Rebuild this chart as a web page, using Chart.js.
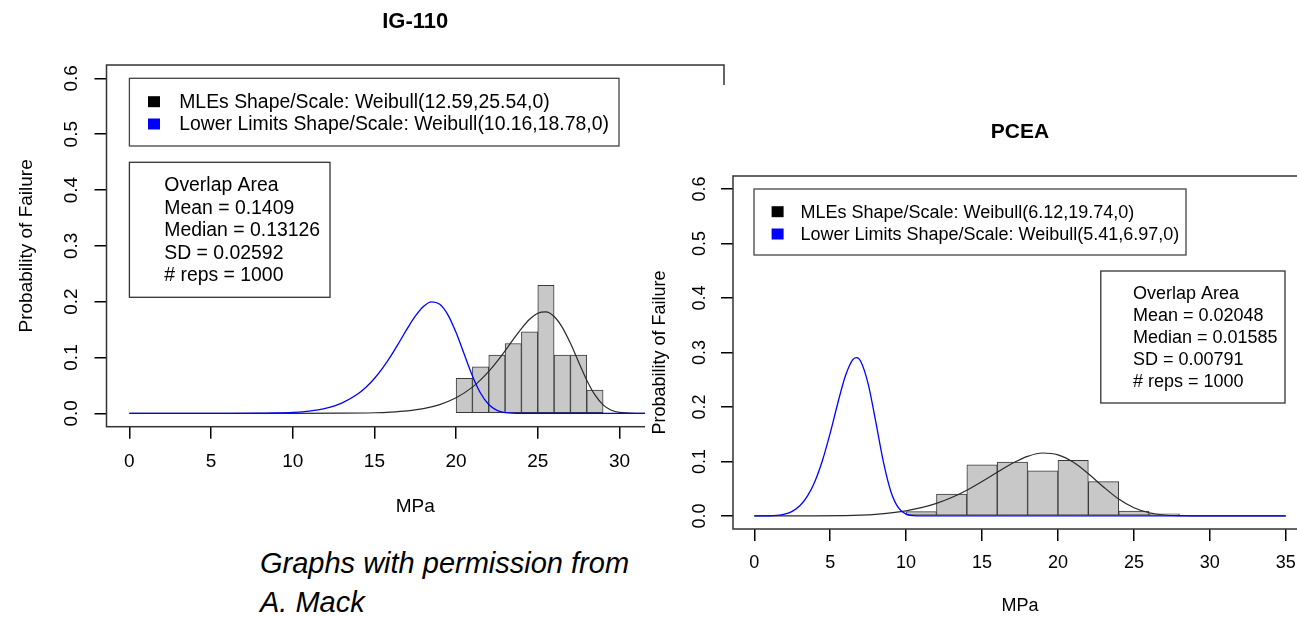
<!DOCTYPE html>
<html><head><meta charset="utf-8">
<script src="https://cdn.jsdelivr.net/npm/chart.js@4.4.1/dist/chart.umd.min.js"></script>
<style>
html,body{margin:0;padding:0;background:#fff;overflow:hidden;width:1297px;height:617px;}
#left{position:absolute;left:0;top:0;width:760px;height:540px;}
#right{position:absolute;left:645px;top:85px;width:662px;height:532px;background:#fff;}
#caption{position:absolute;left:260px;top:544px;font:italic 29px "Liberation Sans",Arial,sans-serif;line-height:38.5px;color:#000;white-space:nowrap;}
canvas{display:block;}
</style></head><body>
<div id="left"><canvas id="c1" width="760" height="540"></canvas></div>
<div id="right"><canvas id="c2" width="662" height="532"></canvas></div>
<div id="caption">Graphs with permission from<br>A. Mack</div>
<script>
// ---------- data ----------
const xTickValues = [0, 5, 10, 15, 20, 25, 30, 35];
const yTickValues = [0, 0.1, 0.2, 0.3, 0.4, 0.5, 0.6];

// IG-110
const igBinCenters = [20.5, 21.5, 22.5, 23.5, 24.5, 25.5, 26.5, 27.5, 28.5];
const igDensity    = [0.0625, 0.0833, 0.1042, 0.1250, 0.1458, 0.2292, 0.1042, 0.1042, 0.0417];
const igMleX = [0, 10, 13, 15, 16, 17, 18, 19, 20, 21, 21.5, 22, 22.5, 23, 23.5, 24, 24.5, 25, 25.5, 26, 26.5, 27, 27.5, 28, 28.5, 29, 29.5, 30, 31, 35];
const igMleY = [0, 0.0000, 0.0002, 0.0010, 0.0022, 0.0044, 0.0084, 0.0156, 0.0277, 0.0469, 0.0598, 0.0751, 0.0927, 0.1120, 0.1323, 0.1518, 0.1684, 0.1793, 0.1816, 0.1734, 0.1540, 0.1254, 0.0920, 0.0594, 0.0329, 0.0152, 0.0056, 0.0016, 0.0001, 0];
const igLowX = [0, 6, 8, 9, 10, 11, 12, 13, 14, 14.5, 15, 15.5, 16, 16.5, 17, 17.5, 18, 18.5, 19, 19.5, 20, 20.5, 21, 21.5, 22, 22.5, 23, 24, 35];
const igLowY = [0, 0.0000, 0.0002, 0.0006, 0.0017, 0.0040, 0.0089, 0.0182, 0.0349, 0.0471, 0.0623, 0.0809, 0.1025, 0.1264, 0.1511, 0.1739, 0.1915, 0.1998, 0.1953, 0.1764, 0.1446, 0.1057, 0.0670, 0.0359, 0.0157, 0.0053, 0.0014, 0.0000, 0];
const igLegend  = ["MLEs Shape/Scale: Weibull(12.59,25.54,0)", "Lower Limits Shape/Scale: Weibull(10.16,18.78,0)"];
const igOverlap = ["Overlap Area", "Mean = 0.1409", "Median = 0.13126", "SD = 0.02592", "# reps = 1000"];

// PCEA
const pcBinCenters = [11, 13, 15, 17, 19, 21, 23, 25, 27];
const pcDensity    = [0.008, 0.040, 0.094, 0.099, 0.083, 0.102, 0.063, 0.009, 0.004];
const pcMleX = [0, 4, 6, 7, 8, 9, 10, 11, 12, 13, 14, 15, 16, 17, 18, 19, 20, 21, 22, 23, 24, 25, 26, 27, 28, 30, 35];
const pcMleY = [0, 0.0001, 0.0007, 0.0015, 0.0030, 0.0055, 0.0094, 0.0151, 0.0231, 0.0338, 0.0472, 0.0631, 0.0802, 0.0966, 0.1094, 0.1155, 0.1122, 0.0988, 0.0775, 0.0531, 0.0309, 0.0149, 0.0058, 0.0017, 0.0004, 0, 0];
const pcLowX = [0, 1, 1.5, 2, 2.5, 3, 3.5, 4, 4.5, 5, 5.5, 6, 6.5, 6.75, 7, 7.5, 8, 8.5, 9, 9.5, 10, 10.5, 11, 12, 35];
const pcLowY = [0, 0.0001, 0.0009, 0.0032, 0.0084, 0.0187, 0.0363, 0.0638, 0.1027, 0.1520, 0.2069, 0.2570, 0.2875, 0.2907, 0.2843, 0.2425, 0.1732, 0.0998, 0.0445, 0.0146, 0.0033, 0.0005, 0.0001, 0, 0];
const pcLegend  = ["MLEs Shape/Scale: Weibull(6.12,19.74,0)", "Lower Limits Shape/Scale: Weibull(5.41,6.97,0)"];
const pcOverlap = ["Overlap Area", "Mean = 0.02048", "Median = 0.01585", "SD = 0.00791", "# reps = 1000"];

const legendColors = ["#000000", "#0000ff"];
// ---------- end data ----------

const FAM = '"Liberation Sans", Arial, Helvetica, sans-serif';
const zip = (xs, ys) => xs.map((x, i) => ({x: x, y: ys[i]}));

function annot(p) {
  return {
    id: 'annot',
    afterDraw(chart) {
      const ctx = chart.ctx, a = chart.chartArea, ox = p.ox, oy = p.oy;
      ctx.save();
      ctx.strokeStyle = '#333'; ctx.lineWidth = 1.5;
      ctx.strokeRect(a.left, a.top, a.right - a.left, a.bottom - a.top);
      const L = p.legend;
      ctx.strokeStyle = '#444'; ctx.lineWidth = 1.3;
      ctx.strokeRect(L.x - ox, L.y - oy, L.w, L.h);
      ctx.font = p.fontSize + 'px ' + FAM;
      ctx.textBaseline = 'middle'; ctx.textAlign = 'left';
      p.legendText.forEach((t, i) => {
        const y = L.rows[i] - oy;
        ctx.fillStyle = legendColors[i];
        ctx.fillRect(L.sqX - ox - 6, y - 1 - 5.5, 12, 11);
        ctx.fillStyle = '#000';
        ctx.fillText(t, L.textX - ox, y);
      });
      const O = p.overlap;
      ctx.strokeStyle = '#333'; ctx.lineWidth = 1.3;
      ctx.strokeRect(O.x - ox, O.y - oy, O.w, O.h);
      ctx.fillStyle = '#000';
      p.overlapText.forEach((t, i) => {
        ctx.fillText(t, O.textX - ox, O.y0 + i * O.dy - oy);
      });
      ctx.restore();
    }
  };
}

function makePanel(canvasId, cfg) {
  const fs = cfg.fontSize;
  return new Chart(document.getElementById(canvasId), {
    type: 'bar',
    data: {
      datasets: [
        {type: 'line', data: zip(cfg.lowX, cfg.lowY), borderColor: '#0000ff', borderWidth: 1.3,
         pointRadius: 0, fill: false, cubicInterpolationMode: 'monotone', order: 0},
        {type: 'line', data: zip(cfg.mleX, cfg.mleY), borderColor: '#2a2a2a', borderWidth: 1.2,
         pointRadius: 0, fill: false, cubicInterpolationMode: 'monotone', order: 1},
        {type: 'bar', data: zip(cfg.binX, cfg.dens), backgroundColor: '#c8c8c8', borderColor: '#3a3a3a',
         borderWidth: 1, borderSkipped: false, barPercentage: 1, categoryPercentage: 1, order: 2}
      ]
    },
    options: {
      responsive: false, animation: false, events: [],
      layout: {padding: {left: 0, right: cfg.padRight, top: 0, bottom: 0}},
      plugins: {
        legend: {display: false}, tooltip: {enabled: false},
        title: {display: true, text: cfg.title, fullSize: false, color: '#000',
          font: {family: FAM, size: cfg.titleSize, weight: 'bold'},
          padding: {top: cfg.titlePadTop, bottom: cfg.titlePadBottom}}
      },
      scales: {
        x: {
          type: 'linear', min: -1.4, max: 36.4, offset: false,
          afterBuildTicks: s => { s.ticks = xTickValues.map(v => ({value: v})); },
          afterFit: s => { s.height = cfg.xAxisH; },
          border: {display: false},
          grid: {offset: false, drawOnChartArea: false, drawTicks: true, tickLength: 12, color: '#000', lineWidth: 1.5},
          ticks: {autoSkip: false, maxRotation: 0, minRotation: 0, padding: cfg.xTickPad, color: '#000',
            font: {family: FAM, size: fs}, callback: v => String(v)},
          title: {display: true, text: 'MPa', color: '#000', font: {family: FAM, size: fs},
            padding: {top: 0, bottom: cfg.xTitlePad}}
        },
        y: {
          type: 'linear', min: -0.024, max: 0.624,
          afterBuildTicks: s => { s.ticks = yTickValues.map(v => ({value: v})); },
          afterFit: s => { s.width = cfg.yAxisW; },
          border: {display: false},
          grid: {offset: false, drawOnChartArea: false, drawTicks: true, tickLength: 12, color: '#000', lineWidth: 1.5},
          ticks: {autoSkip: false, minRotation: 90, maxRotation: 90, crossAlign: 'center', padding: cfg.yTickPad,
            color: '#000', font: {family: FAM, size: fs}, callback: v => Number(v).toFixed(1)},
          title: {display: true, text: 'Probability of Failure', color: '#000', font: {family: FAM, size: fs},
            padding: {top: cfg.yTitlePad, bottom: 0}}
        }
      }
    },
    plugins: [annot(cfg.annot)]
  });
}

makePanel('c1', {
  title: 'IG-110', titleSize: 22, titlePadTop: 8.5, titlePadBottom: 30.1,
  fontSize: 19, padRight: 36, xAxisH: 113.3, yAxisW: 106.5,
  xTickPad: 11.9, xTitlePad: 21.6, yTickPad: 9.3, yTitlePad: 15.6,
  binX: igBinCenters, dens: igDensity, mleX: igMleX, mleY: igMleY, lowX: igLowX, lowY: igLowY,
  annot: {
    ox: 0, oy: 0, fontSize: 19.4,
    legendText: igLegend, overlapText: igOverlap,
    legend: {x: 129.4, y: 78.3, w: 489.6, h: 67.7, sqX: 154, textX: 179.2, rows: [102.7, 125]},
    overlap: {x: 129.4, y: 162.3, w: 200.6, h: 135, textX: 164.3, y0: 186, dy: 22.5}
  }
});

makePanel('c2', {
  title: 'PCEA', titleSize: 21, titlePadTop: 34.4, titlePadBottom: 31.4,
  fontSize: 18, padRight: 0, xAxisH: 88, yAxisW: 88,
  xTickPad: 11.2, xTitlePad: 0, yTickPad: 8.5, yTitlePad: 4.2,
  binX: pcBinCenters, dens: pcDensity, mleX: pcMleX, mleY: pcMleY, lowX: pcLowX, lowY: pcLowY,
  annot: {
    ox: 645, oy: 85, fontSize: 18,
    legendText: pcLegend, overlapText: pcOverlap,
    legend: {x: 754, y: 189, w: 432, h: 66, sqX: 777.6, textX: 800.4, rows: [212.7, 235]},
    overlap: {x: 1100.8, y: 271, w: 184.2, h: 132, textX: 1133, y0: 294, dy: 21.95}
  }
});
</script>
</body></html>
